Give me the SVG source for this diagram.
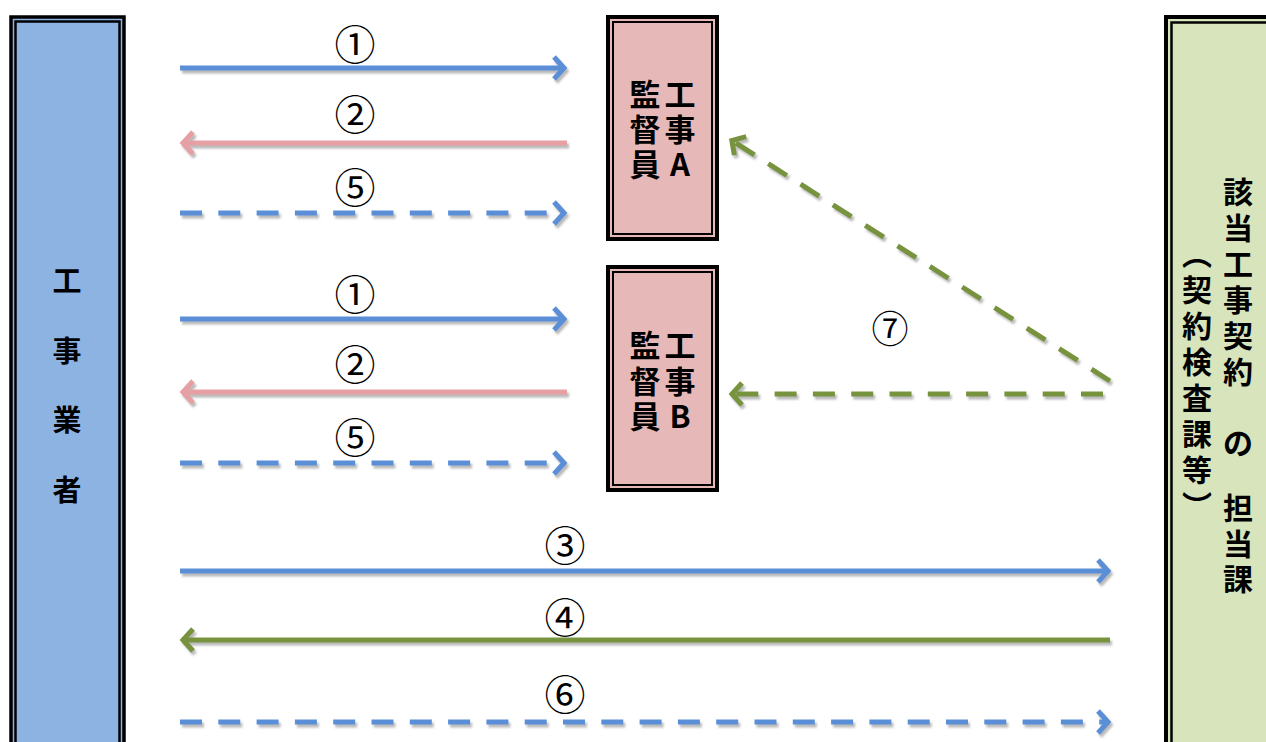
<svg xmlns="http://www.w3.org/2000/svg" width="1266" height="742" viewBox="0 0 1266 742">
<style>
.t{font-family:"Noto Sans CJK JP","Noto Sans CJK SC",sans-serif;font-weight:700;fill:#000;text-anchor:middle;dominant-baseline:central}
.v{font-family:"Noto Sans CJK JP","Noto Sans CJK SC",sans-serif;font-weight:700;fill:#000;font-size:30px;writing-mode:vertical-rl;letter-spacing:6px}
.n{font-family:"Noto Sans CJK JP","Noto Sans CJK SC",sans-serif;font-weight:400;fill:#000;text-anchor:middle;dominant-baseline:central;font-size:41px}
.ob{fill:none;stroke:#000;stroke-width:4}
.ib{fill:none;stroke:#000;stroke-width:2.5}
.c{fill:none;stroke-width:5}
.bl{stroke:#5a8fd8}
.pk{stroke:#e6a0a4}
.gr{stroke:#77933c}
.d{stroke-dasharray:22 16.3}
</style>
<defs>
<filter id="sh" x="-5%" y="-50%" width="110%" height="200%">
<feDropShadow dx="2" dy="3" stdDeviation="1" flood-color="#808080" flood-opacity="0.55"/>
</filter>
<marker id="hb" markerUnits="userSpaceOnUse" orient="auto" refX="0" refY="0" markerWidth="30" markerHeight="30" viewBox="-16 -15 20 30" overflow="visible">
<path d="M-11,-11 L-1,0 L-11,11" fill="none" stroke="#5a8fd8" stroke-width="5"/>
</marker>
<marker id="hp" markerUnits="userSpaceOnUse" orient="auto" refX="0" refY="0" markerWidth="30" markerHeight="30" viewBox="-16 -15 20 30" overflow="visible">
<path d="M-11,-11 L-1,0 L-11,11" fill="none" stroke="#e6a0a4" stroke-width="5"/>
</marker>
<marker id="hg" markerUnits="userSpaceOnUse" orient="auto" refX="0" refY="0" markerWidth="30" markerHeight="30" viewBox="-16 -15 20 30" overflow="visible">
<path d="M-11,-11 L-1,0 L-11,11" fill="none" stroke="#77933c" stroke-width="5"/>
</marker>
</defs>
<rect width="1266" height="742" fill="#fff"/>

<g id="node-contractor">
<rect x="10" y="17" width="115" height="740" fill="#8db3e2"/>
<rect class="ob" x="11" y="17" width="113" height="740" style="stroke-width:3.5"/>
<rect class="ib" x="15.5" y="21.5" width="104" height="730"/>
<text class="t" x="67" y="279" font-size="29">工</text>
<text class="t" x="67" y="349" font-size="29">事</text>
<text class="t" x="67" y="418" font-size="29">業</text>
<text class="t" x="67" y="488" font-size="29">者</text>
</g>

<g id="node-supervisor-a">
<rect x="608" y="17" width="109" height="222" fill="#e6b9b8"/>
<rect class="ob" x="608" y="17" width="109" height="222"/>
<rect class="ib" x="613" y="22" width="99" height="212" style="stroke-width:2"/>
<text class="t" x="645" y="92" font-size="31">監</text>
<text class="t" x="645" y="127" font-size="31">督</text>
<text class="t" x="645" y="162" font-size="31">員</text>
<text class="t" x="680" y="92" font-size="31">工</text>
<text class="t" x="680" y="127" font-size="31">事</text>
<text class="t" x="680" y="162" font-size="31">A</text>
</g>

<g id="node-supervisor-b">
<rect x="608" y="267" width="109" height="223" fill="#e6b9b8"/>
<rect class="ob" x="608" y="267" width="109" height="223"/>
<rect class="ib" x="613" y="272" width="99" height="213" style="stroke-width:2"/>
<text class="t" x="645" y="343" font-size="31">監</text>
<text class="t" x="645" y="379" font-size="31">督</text>
<text class="t" x="645" y="414" font-size="31">員</text>
<text class="t" x="680" y="343" font-size="31">工</text>
<text class="t" x="680" y="379" font-size="31">事</text>
<text class="t" x="680" y="414" font-size="31">B</text>
</g>

<g id="node-section">
<rect x="1166" y="17" width="110" height="740" fill="#d7e4bc"/>
<rect class="ob" x="1166" y="17" width="110" height="740"/>
<rect class="ib" x="1171.5" y="22.5" width="110" height="730"/>
<text class="t" x="1238" y="190" font-size="30">該</text>
<text class="t" x="1238" y="226" font-size="30">当</text>
<text class="t" x="1238" y="262" font-size="30">工</text>
<text class="t" x="1238" y="298" font-size="30">事</text>
<text class="t" x="1238" y="334" font-size="30">契</text>
<text class="t" x="1238" y="370" font-size="30">約</text>
<text class="t" x="1238" y="441" font-size="30">の</text>
<text class="t" x="1238" y="506" font-size="30">担</text>
<text class="t" x="1238" y="542" font-size="30">当</text>
<text class="t" x="1238" y="577" font-size="30">課</text>
<text class="v" x="1197" y="239">（契約検査課等）</text>
</g>

<g id="connectors" filter="url(#sh)">
<line class="c bl" x1="180" y1="68" x2="565" y2="68" marker-end="url(#hb)"/>
<line class="c pk" x1="567" y1="143" x2="182" y2="143" marker-end="url(#hp)"/>
<line class="c bl d" x1="180" y1="213" x2="565" y2="213" marker-end="url(#hb)"/>
<line class="c bl" x1="180" y1="319" x2="565" y2="319" marker-end="url(#hb)"/>
<line class="c pk" x1="567" y1="392" x2="182" y2="392" marker-end="url(#hp)"/>
<line class="c bl d" x1="180" y1="463" x2="565" y2="463" marker-end="url(#hb)"/>
<line class="c bl" x1="180" y1="571" x2="1109" y2="571" marker-end="url(#hb)"/>
<line class="c gr" x1="1110" y1="640" x2="182" y2="640" marker-end="url(#hg)"/>
<line class="c bl d" x1="180" y1="722" x2="1109" y2="722" marker-end="url(#hb)"/>
<line class="c gr d" x1="1110" y1="381" x2="731" y2="140" marker-end="url(#hg)"/>
<line class="c gr d" x1="1103" y1="394" x2="731" y2="394" marker-end="url(#hg)"/>
</g>

<g id="labels">
<text class="n" x="355" y="42">①</text>
<text class="n" x="355" y="112">②</text>
<text class="n" x="355" y="185">⑤</text>
<text class="n" x="355" y="292">①</text>
<text class="n" x="355" y="362">②</text>
<text class="n" x="355" y="435">⑤</text>
<text class="n" x="565" y="543">③</text>
<text class="n" x="565" y="615">④</text>
<text class="n" x="565" y="692">⑥</text>
<text class="n" x="890" y="327" style="font-size:37px">⑦</text>
</g>
</svg>
